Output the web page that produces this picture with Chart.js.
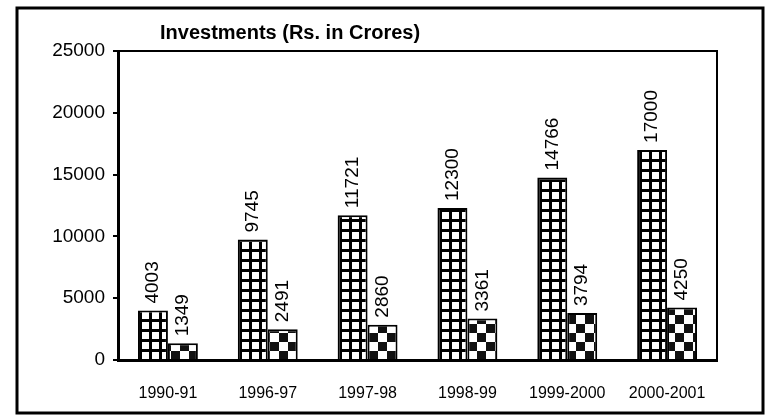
<!DOCTYPE html>
<html>
<head>
<meta charset="utf-8">
<script src="https://cdn.jsdelivr.net/npm/chart.js@4"></script>
<style>
  html, body { margin: 0; padding: 0; background: #fff; }
  #wrap { width: 768px; height: 418px; }
</style>
</head>
<body>
<div id="wrap"><canvas id="invChart" width="768" height="418"></canvas></div>
<script>
// data
const years = ['1990-91', '1996-97', '1997-98', '1998-99', '1999-2000', '2000-2001'];
const firstSeries = [4003, 9745, 11721, 12300, 14766, 17000];
const secondSeries = [1349, 2491, 2860, 3361, 3794, 4250];
const yTicks = [0, 5000, 10000, 15000, 20000, 25000];
const chartTitle = 'Investments (Rs. in Crores)';

const fontFamily = '"Liberation Sans", Arial, sans-serif';

// grid pattern: white squares with thick black lines
function makeGrid() {
    const c = document.createElement('canvas');
    c.width = 10; c.height = 10;
    const g = c.getContext('2d');
    g.fillStyle = '#000';
    g.fillRect(0, 0, 10, 10);
    g.fillStyle = '#fff';
    g.fillRect(2, 2, 7, 7);
    return g.createPattern(c, 'repeat');
}

// checkerboard pattern
function makeChecker() {
    const c = document.createElement('canvas');
    c.width = 18; c.height = 18;
    const g = c.getContext('2d');
    g.fillStyle = '#fff';
    g.fillRect(0, 0, 18, 18);
    g.fillStyle = '#111';
    g.fillRect(0, 0, 9, 9);
    g.fillRect(9, 9, 9, 9);
    return g.createPattern(c, 'repeat');
}

// frame, plot box and title
const framePlugin = {
    id: 'framePlugin',
    afterDraw(chart) {
        const ctx = chart.ctx;
        const a = chart.chartArea;
        ctx.save();
        ctx.strokeStyle = '#000';
        ctx.lineWidth = 3;
        ctx.strokeRect(17, 8, 746, 405);
        ctx.lineWidth = 2;
        ctx.beginPath();
        ctx.moveTo(a.left, a.top);
        ctx.lineTo(a.right, a.top);
        ctx.lineTo(a.right, a.bottom);
        ctx.stroke();
        ctx.fillStyle = '#000';
        ctx.font = 'bold 20px ' + fontFamily;
        ctx.textAlign = 'left';
        ctx.textBaseline = 'middle';
        ctx.fillText(chartTitle, 160, 33);
        ctx.restore();
    }
};

// rotated value labels above the bars
const valuePlugin = {
    id: 'valuePlugin',
    afterDatasetsDraw(chart) {
        const ctx = chart.ctx;
        ctx.save();
        ctx.fillStyle = '#000';
        ctx.font = '19px ' + fontFamily;
        ctx.textAlign = 'left';
        ctx.textBaseline = 'middle';
        chart.data.datasets.forEach((ds, i) => {
            chart.getDatasetMeta(i).data.forEach((bar, j) => {
                ctx.save();
                ctx.translate(bar.x, bar.y - 7);
                ctx.rotate(-Math.PI / 2);
                ctx.fillText(String(ds.data[j]), 0, 0);
                ctx.restore();
            });
        });
        ctx.restore();
    }
};

const ctx = document.getElementById('invChart');

new Chart(ctx, {
    type: 'bar',
    data: {
        labels: years,
        datasets: [
            {
                label: 'Series 1',
                data: firstSeries,
                backgroundColor: makeGrid(),
                borderColor: '#000',
                borderWidth: 2
            },
            {
                label: 'Series 2',
                data: secondSeries,
                backgroundColor: makeChecker(),
                borderColor: '#000',
                borderWidth: 2
            }
        ]
    },
    options: {
        responsive: false,
        animation: false,
        devicePixelRatio: 1,
        layout: {
            padding: { top: 51, right: 51, left: 0, bottom: 0 }
        },
        datasets: {
            bar: {
                categoryPercentage: 0.6,
                barPercentage: 1.0
            }
        },
        scales: {
            x: {
                afterFit: (scale) => { scale.height = 58; },
                grid: { display: false },
                border: { display: true, color: '#000', width: 3 },
                ticks: {
                    color: '#000',
                    padding: 16,
                    maxRotation: 0,
                    font: { family: fontFamily, size: 16 }
                }
            },
            y: {
                min: 0,
                max: 25000,
                afterFit: (scale) => { scale.width = 118; },
                afterBuildTicks: (scale) => { scale.ticks = yTicks.map(v => ({ value: v })); },
                grid: {
                    drawOnChartArea: false,
                    drawTicks: true,
                    tickLength: 5,
                    color: '#000',
                    lineWidth: 2
                },
                border: { display: true, color: '#000', width: 3 },
                ticks: {
                    color: '#000',
                    padding: 8,
                    font: { family: fontFamily, size: 19 },
                    callback: (v) => String(v)
                }
            }
        },
        plugins: {
            legend: { display: false },
            title: { display: false },
            tooltip: { enabled: false }
        }
    },
    plugins: [framePlugin, valuePlugin]
});
</script>
</body>
</html>
